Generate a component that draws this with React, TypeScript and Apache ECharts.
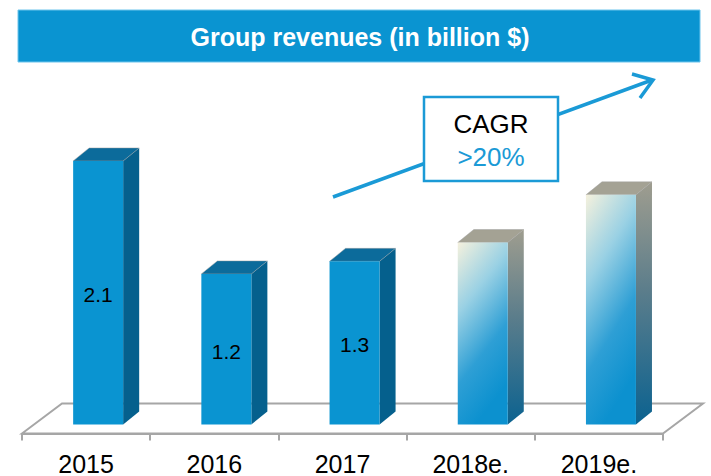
import React, { useEffect, useRef } from "react";
import * as echarts from "echarts";

const years = ["2015", "2016", "2017", "2018e.", "2019e."];
const revenues = [2.1, 1.2, 1.3, 1.45, 1.83];
const isEstimate = [false, false, false, true, true];
const valueLabels = ["2.1", "1.2", "1.3", "", ""];
const titleText = "Group revenues (in billion $)";
const cagrTitle = "CAGR";
const cagrValue = ">20%";

const FONT = "'Liberation Sans', Arial, sans-serif";
const BLUE = "#0A94D1";

export default function App() {
  const ref = useRef<HTMLDivElement>(null);
  useEffect(() => {
    if (!ref.current) return;
    const chart = echarts.init(ref.current, null, { renderer: "svg" });
    const option: any = {
      animation: false,
      backgroundColor: "#ffffff",
      grid: { left: 22, right: 48, top: 57, bottom: 42, containLabel: false },
      xAxis: {
        type: "category",
        data: years,
        boundaryGap: true,
        axisLine: { show: true, lineStyle: { color: "#A6A6A6", width: 2 } },
        axisTick: { show: true, length: 7, lineStyle: { color: "#A6A6A6", width: 2 } },
        axisLabel: {
          fontSize: 25,
          lineHeight: 20,
          color: "#000",
          margin: 20,
          fontFamily: FONT,
        },
        splitLine: { show: false },
      },
      yAxis: { type: "value", min: 0, max: 3, show: false, splitLine: { show: false } },
      series: [
        {
          type: "custom",
          clip: false,
          encode: { x: 0, y: 1 },
          data: revenues.map((v, i) => [i, v]),
          renderItem: (params: any, api: any) => {
            const idx = params.dataIndex;
            const v = api.value(1);
            const base = api.coord([idx, 0]);
            const top = api.coord([idx, v]);
            const bw = api.size([1, 0])[0];
            const fw = bw * 0.39;
            const off = bw * 0.094;
            const dx = bw * 0.125;
            const dy = 13;
            const lift = 9;
            const x0 = base[0] - fw / 2 + off;
            const x1 = x0 + fw;
            const yb = base[1] - lift;
            const yt = top[1] - lift;
            const est = isEstimate[idx];
            const frontFill = est
              ? new echarts.graphic.LinearGradient(0, 0, 0.35, 1, [
                  { offset: 0, color: "#F5F1DD" },
                  { offset: 0.35, color: "#9AD1E4" },
                  { offset: 0.7, color: "#2E9FD5" },
                  { offset: 1, color: "#0C91CF" },
                ])
              : BLUE;
            const sideFill = est
              ? new echarts.graphic.LinearGradient(0, 0, 0, 1, [
                  { offset: 0, color: "#9F9D8F" },
                  { offset: 0.45, color: "#5B7D8B" },
                  { offset: 1, color: "#0B6290" },
                ])
              : "#05608D";
            const topFill = est ? "#A4A294" : "#0C6B9B";
            const children: any[] = [];
            if (idx === 0) {
              const L = base[0] - bw / 2;
              const R = L + bw * years.length;
              const fdx = 40;
              const fdy = 30;
              children.push({
                type: "polygon",
                shape: {
                  points: [
                    [L, base[1]],
                    [L + fdx, base[1] - fdy],
                    [R + fdx, base[1] - fdy],
                    [R, base[1]],
                  ],
                },
                style: { fill: "#ffffff", stroke: "#A6A6A6", lineWidth: 2 },
              });
            }
            children.push({
              type: "polygon",
              shape: { points: [[x1, yb], [x1 + dx, yb - dy], [x1 + dx, yt - dy], [x1, yt]] },
              style: { fill: sideFill },
            });
            children.push({
              type: "polygon",
              shape: { points: [[x0, yt], [x0 + dx, yt - dy], [x1 + dx, yt - dy], [x1, yt]] },
              style: { fill: topFill, stroke: "rgba(160,160,160,0.6)", lineWidth: 0.8 },
            });
            children.push({
              type: "rect",
              shape: { x: x0, y: yt, width: fw, height: yb - yt },
              style: { fill: frontFill },
            });
            if (valueLabels[idx]) {
              children.push({
                type: "text",
                x: (x0 + x1) / 2,
                y: (yt + yb) / 2 + 2,
                style: {
                  text: valueLabels[idx],
                  fill: "#000",
                  fontSize: 21,
                  fontFamily: FONT,
                  align: "center",
                  verticalAlign: "middle",
                },
              });
            }
            return { type: "group", children };
          },
        },
      ],
      graphic: [
        {
          type: "rect",
          shape: { x: 18, y: 10, width: 682, height: 52 },
          style: { fill: BLUE, stroke: "#6CC4EC", lineWidth: 1 },
          z: 10,
        },
        {
          type: "text",
          x: 360,
          y: 37,
          style: {
            text: titleText,
            fill: "#fff",
            fontSize: 25,
            fontWeight: "bold",
            fontFamily: FONT,
            align: "center",
            verticalAlign: "middle",
          },
          z: 11,
        },
        {
          type: "line",
          shape: { x1: 333, y1: 197, x2: 652, y2: 80 },
          style: { stroke: "#1A9AD6", lineWidth: 3.5 },
          z: 10,
        },
        {
          type: "polyline",
          shape: { points: [[632, 74], [653, 80], [640, 98]] },
          style: { stroke: "#1A9AD6", lineWidth: 3.5, fill: "none" },
          z: 10,
        },
        {
          type: "rect",
          shape: { x: 424, y: 97, width: 134, height: 84 },
          style: { fill: "#fff", stroke: "#1B9AD6", lineWidth: 2.5 },
          z: 11,
        },
        {
          type: "text",
          x: 491,
          y: 124,
          style: {
            text: cagrTitle,
            fill: "#000",
            fontSize: 26,
            fontFamily: FONT,
            align: "center",
            verticalAlign: "middle",
          },
          z: 12,
        },
        {
          type: "text",
          x: 491,
          y: 157,
          style: {
            text: cagrValue,
            fill: "#1B9AD6",
            fontSize: 26,
            fontFamily: FONT,
            align: "center",
            verticalAlign: "middle",
          },
          z: 12,
        },
      ],
    };
    chart.setOption(option);
    return () => chart.dispose();
  }, []);
  return (
    <div
      ref={ref}
      style={{ position: "fixed", left: 0, top: 0, width: 711, height: 476 }}
    />
  );
}
